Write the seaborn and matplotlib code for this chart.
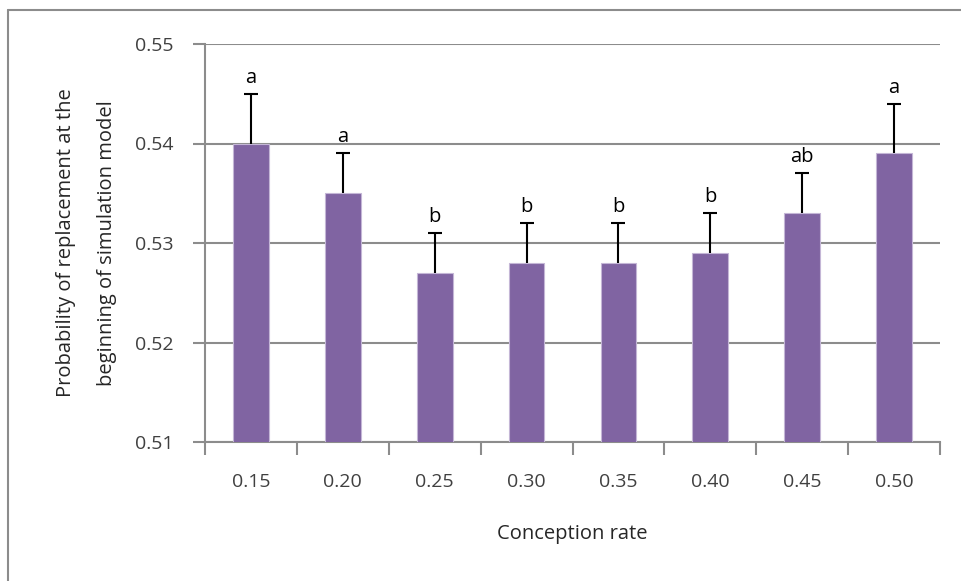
import numpy as np
import pandas as pd
import seaborn as sns
import matplotlib.pyplot as plt
from matplotlib.lines import Line2D

# values
rates = ["0.15", "0.20", "0.25", "0.30", "0.35", "0.40", "0.45", "0.50"]
prob = [0.540, 0.535, 0.527, 0.528, 0.528, 0.529, 0.533, 0.539]
err = [0.005, 0.004, 0.004, 0.004, 0.004, 0.004, 0.004, 0.005]
letters = ["a", "a", "b", "b", "b", "b", "ab", "a"]
yticks = [0.51, 0.52, 0.53, 0.54, 0.55]

df = pd.DataFrame({"rate": rates, "prob": prob})

sns.set_style("white")
plt.rcParams["font.family"] = ["Open Sans", "DejaVu Sans"]

fig = plt.figure(figsize=(9.62, 5.81), dpi=100)
ax = fig.add_axes([205 / 962, 1 - 442 / 581, 735 / 962, 398 / 581])

sns.barplot(data=df, x="rate", y="prob", color="#8064A2", saturation=1,
            width=0.39, edgecolor="#C4B6D6", linewidth=0.8, ax=ax, zorder=3)

x = np.arange(len(rates))
eb = ax.errorbar(x, prob, yerr=[np.zeros(len(err)), err], fmt="none",
                 ecolor="black", elinewidth=1.5, capsize=5, capthick=1.5,
                 zorder=4)
# only the upper cap is drawn in the original
eb[1][0].set_visible(False)

for xi, p, e, lab in zip(x, prob, err, letters):
    ax.text(xi, p + e + 0.0006, lab, ha="center", va="bottom", fontsize=14.5,
            color="black")

ax.set_ylim(0.51, 0.55)
ax.set_xlim(-0.5, len(rates) - 0.5)
ax.set_yticks(yticks)
ax.set_yticklabels(["%.2f" % t for t in yticks], fontsize=14, color="#404040")
ax.yaxis.grid(True, color="#8C8C8C", linewidth=1.5, zorder=0)
ax.set_axisbelow(True)

# x ticks sit between categories
ax.set_xticks(x)
ax.set_xticklabels(rates, fontsize=14, color="#404040")
ax.set_xticks(np.arange(-0.5, len(rates)), minor=True)
ax.tick_params(axis="x", which="major", bottom=True, length=0, pad=22)
ax.tick_params(axis="x", which="minor", bottom=True, length=9, width=1.5,
               color="#8C8C8C")
ax.tick_params(axis="y", left=True, length=9, width=1.5, color="#8C8C8C",
               pad=13.5)

for side in ["top", "right"]:
    ax.spines[side].set_visible(False)
for side in ["left", "bottom"]:
    ax.spines[side].set_color("#8C8C8C")
    ax.spines[side].set_linewidth(1.5)

ax.set_xlabel("Conception rate", fontsize=14.5, labelpad=24)
ax.set_ylabel("Probability of replacement at the\nbeginning of simulation model",
              fontsize=14.5, linespacing=2.4, labelpad=13)

# outer frame of the chart area (only left and top edges visible)
fig.add_artist(Line2D([8 / 962, 8 / 962], [0, 1 - 10 / 581], color="#8C8C8C",
                      linewidth=1.5))
fig.add_artist(Line2D([8 / 962, 1], [1 - 10 / 581, 1 - 10 / 581],
                      color="#8C8C8C", linewidth=1.5))

fig.savefig("out.png", dpi=100)
